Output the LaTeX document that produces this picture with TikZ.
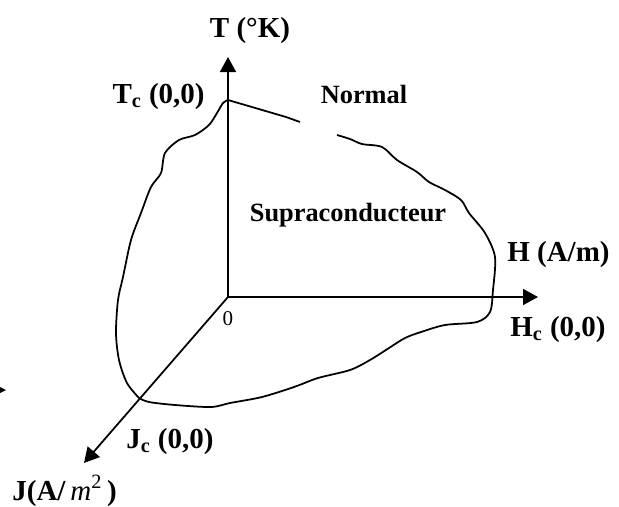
\documentclass[tikz,border=0pt]{standalone}
\usepackage{fontspec}
\setmainfont{Liberation Serif}
\usetikzlibrary{arrows.meta}
\tikzset{lab/.style={font=\fontsize{16.5}{19}\selectfont\bfseries,inner sep=0pt},
  region/.style={lab,font=\fontsize{15}{18}\selectfont\bfseries},
  axis/.style={-{Triangle[length=3mm,width=3.2mm]},line width=1pt},
  border/.style={line width=1pt,line join=round}}

\begin{document}
\begin{tikzpicture}
\useasboundingbox (-4.56,-4.18) rectangle (7.82,5.94);
\coordinate (O) at (0,0);
\coordinate (T) at (0,4.8);
\coordinate (H) at (6.2,0);
\coordinate (J) at (-2.88,-3.32);
\draw[axis] (O)--(T);
\draw[axis] (O)--(H);
\draw[axis] (O)--(J);
% limit of the superconducting state
\draw[border] plot[smooth,tension=0.5] coordinates {(2.18,3.24) (2.44,3.16) (2.68,3.06) (3.08,3.00) (3.38,2.74)
  (3.78,2.50) (4.02,2.30) (4.34,2.14) (4.66,1.94) (4.82,1.68) (5.14,1.28) (5.34,0.80) (5.30,0.14)
  (5.24,-0.30) (4.98,-0.50) (4.34,-0.56) (3.86,-0.70) (3.54,-0.82) (3.22,-1.02) (2.84,-1.26) (2.44,-1.46)
  (1.80,-1.62) (1.32,-1.80) (0.68,-2.00) (0.04,-2.12) (-0.34,-2.20) (-1.06,-2.16) (-1.58,-2.10) (-1.78,-2.02)}
  -- plot[smooth,tension=0.5] coordinates {(-1.78,-2.02) (-2.02,-1.72) (-2.18,-1.26) (-2.24,-0.72) (-2.20,-0.06)
  (-2.10,0.40) (-1.94,1.14) (-1.74,1.68) (-1.54,2.20) (-1.34,2.48) (-1.26,2.88) (-0.98,3.14) (-0.66,3.24)
  (-0.38,3.44) (-0.22,3.68) (-0.10,3.88) (0,3.94)} -- (1.16,3.60) -- (1.44,3.50);
\fill (-4.56,-1.80) -- (-4.44,-1.86) -- (-4.56,-1.92) -- cycle;
\node[lab,anchor=base] (tlab) at (0.44,5.2) {T (°K)};
\node[lab,anchor=base east] (tc) at (-0.46,3.88) {T\textsubscript{c} (0,0)};
\node[region,anchor=base] (normal) at (2.72,3.88) {Normal};
\node[region,anchor=base] (supra) at (2.4,1.52) {Supraconducteur};
\node[lab,anchor=base west] (hlab) at (5.58,0.72) {H (A/m)};
\node[lab,anchor=base west] (hc) at (5.64,-0.78) {H\textsubscript{c} (0,0)};
\node[lab,anchor=base west] (jc) at (-2.04,-3.02) {J\textsubscript{c} (0,0)};
\node[lab,anchor=base west] (jlab) at (-4.32,-4.06) {J(A/\,\textmd{\textit{m}}\textsuperscript{\textmd{2}}\,)};
\node[font=\fontsize{12}{14}\selectfont,inner sep=0pt] (zero) at (0,-0.44) {0};
\end{tikzpicture}
\end{document}
